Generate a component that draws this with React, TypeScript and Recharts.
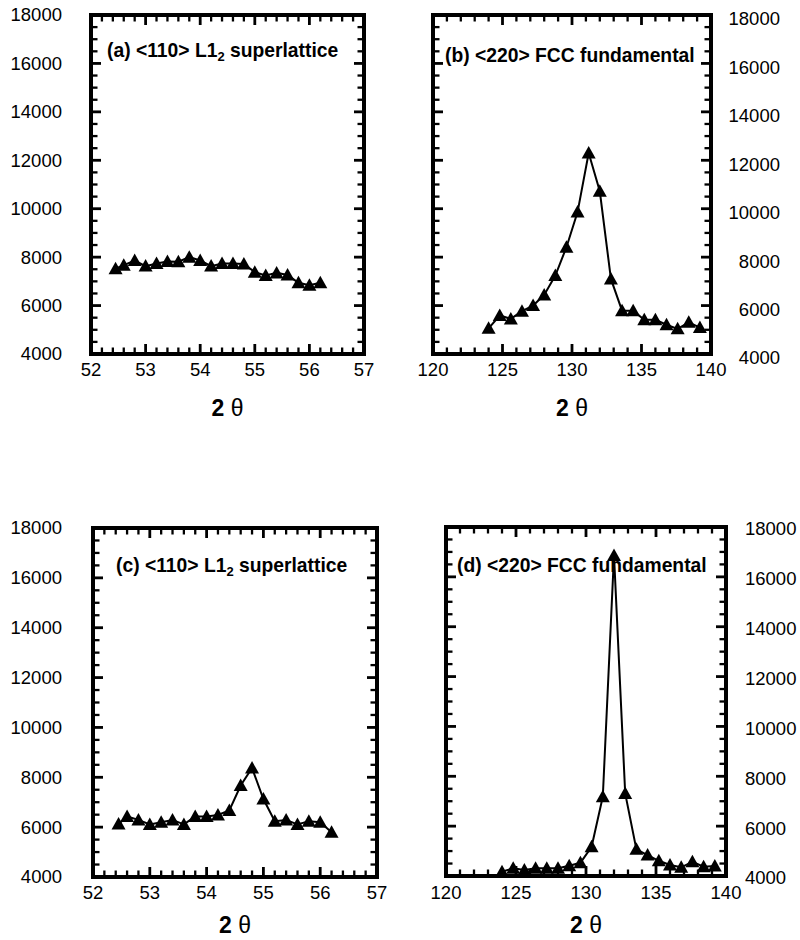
import React from 'react';
import { LineChart, Line, XAxis, YAxis, Label, ReferenceLine, ReferenceArea } from 'recharts';

const FONT = '"Liberation Sans", Arial, Helvetica, sans-serif';

// ---- Data ----
// (a) <110> L1_2 superlattice, upper panel
const superXa = [52.45, 52.6, 52.8, 53.0, 53.2, 53.4, 53.6, 53.8, 54.0, 54.2, 54.4, 54.6, 54.8, 55.0, 55.2, 55.4, 55.6, 55.8, 56.0, 56.2];
const superYa = [7520, 7670, 7860, 7630, 7740, 7820, 7810, 8000, 7860, 7630, 7740, 7740, 7720, 7380, 7240, 7350, 7260, 6940, 6840, 6940];

// (b) <220> FCC fundamental, upper panel
const fundXb = [124.0, 124.8, 125.6, 126.4, 127.2, 128.0, 128.8, 129.6, 130.4, 131.2, 132.0, 132.8, 133.6, 134.4, 135.2, 136.0, 136.8, 137.6, 138.4, 139.2];
const fundYb = [5060, 5590, 5450, 5770, 6000, 6440, 7240, 8410, 9860, 12300, 10720, 7100, 5790, 5790, 5410, 5410, 5210, 5040, 5310, 5090];

// (c) <110> L1_2 superlattice, lower panel
const superXc = [52.45, 52.6, 52.8, 53.0, 53.2, 53.4, 53.6, 53.8, 54.0, 54.2, 54.4, 54.6, 54.8, 55.0, 55.2, 55.4, 55.6, 55.8, 56.0, 56.2];
const superYc = [6130, 6430, 6290, 6110, 6200, 6290, 6110, 6430, 6430, 6490, 6670, 7670, 8370, 7130, 6240, 6290, 6110, 6240, 6200, 5800];

// (d) <220> FCC fundamental, lower panel
const fundXd = [124.0, 124.8, 125.6, 126.4, 127.2, 128.0, 128.8, 129.6, 130.4, 131.2, 132.0, 132.8, 133.6, 134.4, 135.2, 136.0, 136.8, 137.6, 138.4, 139.2];
const fundYd = [4170, 4310, 4240, 4310, 4310, 4310, 4410, 4530, 5170, 7180, 16860, 7310, 5070, 4840, 4610, 4440, 4350, 4570, 4370, 4400];

// ---- Tick labels ----
const superXTicks = [52, 53, 54, 55, 56, 57];
const fundXTicks = [120, 125, 130, 135, 140];
const intensityTicks = [4000, 6000, 8000, 10000, 12000, 14000, 16000, 18000];

const titleA: [string, string, string] = ['(a) <110> L1', '2', ' superlattice'];
const titleB: [string, string, string] = ['(b) <220> FCC fundamental', '', ''];
const titleC: [string, string, string] = ['(c) <110> L1', '2', ' superlattice'];
const titleD: [string, string, string] = ['(d) <220> FCC fundamental', '', ''];

function stepTicks(lo: number, hi: number, step: number, skip: number[]): number[] {
  const out: number[] = [];
  const n = Math.round((hi - lo) / step);
  for (let i = 0; i <= n; i++) {
    const v = +(lo + i * step).toFixed(6);
    if (!skip.some((m) => Math.abs(m - v) < 1e-6)) out.push(v);
  }
  return out;
}

type Box = { l: number; t: number; r: number; b: number };

interface PanelProps {
  xs: number[];
  ys: number[];
  xMajor: number[];
  xStep: number;
  yStep: number;
  box: Box;
  frame: Box;
  ySide: 'left' | 'right';
  yLabelX: number;
  yAnchor: 'start' | 'end';
  yLabelDy: number;
  xLabelY: number;
  axisTitleY: number;
  title: [string, string, string];
  titleX: number;
  titleY: number;
}

const Triangle = (props: any) => {
  const { cx, cy, index } = props;
  if (cx == null || cy == null) return <g key={`n-${index}`} />;
  return (
    <polygon
      key={`t-${index}`}
      points={`${cx},${cy - 7} ${cx + 7},${cy + 5.5} ${cx - 7},${cy + 5.5}`}
      fill="#000"
    />
  );
};

const EmptyTick = () => <g />;
const MAJ_PX = 10;
const MIN_PX = 6.5;
const MAJ_W = 2.8;
const MIN_W = 2.3;

function Panel(p: PanelProps) {
  const W = p.frame.r - p.frame.l;
  const H = p.frame.b - p.frame.t;
  const bx0 = p.box.l - p.frame.l;
  const bx1 = p.box.r - p.frame.l;
  const by0 = p.box.t - p.frame.t;
  const by1 = p.box.b - p.frame.t;
  const margin = { left: bx0 - 1, top: by0 - 1, right: W - bx1 - 1, bottom: H - by1 - 1 };
  const data = p.xs.map((x, i) => ({ x, y: p.ys[i] }));
  const xDomain: [number, number] = [p.xMajor[0], p.xMajor[p.xMajor.length - 1]];
  const yDomain: [number, number] = [intensityTicks[0], intensityTicks[intensityTicks.length - 1]];
  const xMinor = stepTicks(xDomain[0], xDomain[1], p.xStep, p.xMajor);
  const yMinor = stepTicks(yDomain[0], yDomain[1], p.yStep, intensityTicks);
  // tick lengths converted from pixels into data units
  const xPerPx = (xDomain[1] - xDomain[0]) / (bx1 - bx0);
  const yPerPx = (yDomain[1] - yDomain[0]) / (by1 - by0);

  const tickMarks: React.ReactNode[] = [];
  const addX = (v: number, len: number, w: number, key: string) => {
    const dy = len * yPerPx;
    tickMarks.push(
      <ReferenceLine key={`xb${key}`} xAxisId="b" yAxisId="l" ifOverflow="visible"
        segment={[{ x: v, y: yDomain[0] }, { x: v, y: yDomain[0] + dy }]} stroke="#000" strokeWidth={w} />,
      <ReferenceLine key={`xt${key}`} xAxisId="b" yAxisId="l" ifOverflow="visible"
        segment={[{ x: v, y: yDomain[1] }, { x: v, y: yDomain[1] - dy }]} stroke="#000" strokeWidth={w} />
    );
  };
  const addY = (v: number, len: number, w: number, key: string) => {
    const dx = len * xPerPx;
    tickMarks.push(
      <ReferenceLine key={`yl${key}`} xAxisId="b" yAxisId="l" ifOverflow="visible"
        segment={[{ x: xDomain[0], y: v }, { x: xDomain[0] + dx, y: v }]} stroke="#000" strokeWidth={w} />,
      <ReferenceLine key={`yr${key}`} xAxisId="b" yAxisId="l" ifOverflow="visible"
        segment={[{ x: xDomain[1], y: v }, { x: xDomain[1] - dx, y: v }]} stroke="#000" strokeWidth={w} />
    );
  };
  p.xMajor.forEach((v, i) => addX(v, MAJ_PX, MAJ_W, `M${i}`));
  xMinor.forEach((v, i) => addX(v, MIN_PX, MIN_W, `m${i}`));
  intensityTicks.forEach((v, i) => addY(v, MAJ_PX, MAJ_W, `M${i}`));
  yMinor.forEach((v, i) => addY(v, MIN_PX, MIN_W, `m${i}`));

  const bottomLabel = (props: any) => {
    const { x, payload } = props;
    return (
      <text x={x} y={p.xLabelY - p.frame.t} dy="0.35em" textAnchor="middle" fontSize={18.5} fontFamily={FONT} fill="#000">
        {payload.value}
      </text>
    );
  };
  const sideLabel = (props: any) => {
    const { y, payload } = props;
    return (
      <text x={p.yLabelX - p.frame.l} y={y + p.yLabelDy} dy="0.35em" textAnchor={p.yAnchor} fontSize={18.5} fontFamily={FONT} fill="#000">
        {payload.value}
      </text>
    );
  };

  const axisTitle = () => (
    <text x={(bx0 + bx1) / 2} y={p.axisTitleY - p.frame.t} dy="0.35em" textAnchor="middle" fontSize={23} fontFamily={FONT} fill="#000">
      <tspan fontWeight="bold">2</tspan>
      <tspan> θ</tspan>
    </text>
  );
  const titleLabel = () => (
    <text x={p.titleX - p.frame.l} y={p.titleY - p.frame.t} dy="0.35em" fontSize={19.3} fontWeight="bold" fontFamily={FONT} fill="#000">
      <tspan>{p.title[0]}</tspan>
      {p.title[1] && (
        <tspan fontSize={13} dy={4}>
          {p.title[1]}
        </tspan>
      )}
      {p.title[2] && <tspan dy={p.title[1] ? -4 : 0}>{p.title[2]}</tspan>}
    </text>
  );

  const common = { type: 'number' as const, interval: 0 as const, tickMargin: 0, tickSize: 0, allowDataOverflow: true, tickLine: false, axisLine: false };

  return (
    <div style={{ position: 'absolute', left: p.frame.l, top: p.frame.t }}>
      <LineChart width={W} height={H} data={data} margin={margin}>
        <XAxis {...common} xAxisId="b" dataKey="x" domain={xDomain} ticks={p.xMajor} height={1} tick={bottomLabel}>
          <Label content={axisTitle} />
        </XAxis>
        <XAxis {...common} xAxisId="t" orientation="top" dataKey="x" domain={xDomain} ticks={p.xMajor} height={1} tick={EmptyTick}>
          <Label content={titleLabel} />
        </XAxis>
        <YAxis {...common} yAxisId="l" domain={yDomain} ticks={intensityTicks} width={1}
          tick={p.ySide === 'left' ? sideLabel : EmptyTick} />
        <YAxis {...common} yAxisId="r" orientation="right" domain={yDomain} ticks={intensityTicks} width={1}
          tick={p.ySide === 'right' ? sideLabel : EmptyTick} />
        <ReferenceArea xAxisId="b" yAxisId="l" x1={xDomain[0]} x2={xDomain[1]} y1={yDomain[0]} y2={yDomain[1]}
          ifOverflow="visible" fill="none" fillOpacity={0} stroke="#000" strokeWidth={4} />
        {tickMarks}
        <Line
          xAxisId="b"
          yAxisId="l"
          type="linear"
          dataKey="y"
          stroke="#000"
          strokeWidth={2}
          dot={Triangle}
          activeDot={false}
          isAnimationActive={false}
        />
      </LineChart>
    </div>
  );
}

export default function App() {
  return (
    <div style={{ position: 'absolute', left: 0, top: 0, width: 800, height: 940, background: '#fff' }}>
      <Panel
        xs={superXa}
        ys={superYa}
        xMajor={superXTicks}
        xStep={0.2}
        yStep={500}
        box={{ l: 91, t: 15, r: 364, b: 354 }}
        frame={{ l: 0, t: 0, r: 384, b: 440 }}
        ySide="left"
        yLabelX={62}
        yAnchor="end"
        yLabelDy={0}
        xLabelY={370}
        axisTitleY={408}
        title={titleA}
        titleX={107}
        titleY={50}
      />
      <Panel
        xs={fundXb}
        ys={fundYb}
        xMajor={fundXTicks}
        xStep={1}
        yStep={500}
        box={{ l: 433, t: 15, r: 711, b: 354 }}
        frame={{ l: 390, t: 0, r: 800, b: 440 }}
        ySide="right"
        yLabelX={780}
        yAnchor="end"
        yLabelDy={4}
        xLabelY={370}
        axisTitleY={408}
        title={titleB}
        titleX={445}
        titleY={55}
      />
      <Panel
        xs={superXc}
        ys={superYc}
        xMajor={superXTicks}
        xStep={0.2}
        yStep={500}
        box={{ l: 93, t: 528, r: 377, b: 877 }}
        frame={{ l: 0, t: 470, r: 397, b: 940 }}
        ySide="left"
        yLabelX={62}
        yAnchor="end"
        yLabelDy={0}
        xLabelY={893}
        axisTitleY={925}
        title={titleC}
        titleX={116}
        titleY={565}
      />
      <Panel
        xs={fundXd}
        ys={fundYd}
        xMajor={fundXTicks}
        xStep={1}
        yStep={500}
        box={{ l: 446, t: 527, r: 726, b: 876 }}
        frame={{ l: 400, t: 470, r: 800, b: 940 }}
        ySide="right"
        yLabelX={745}
        yAnchor="start"
        yLabelDy={2}
        xLabelY={893}
        axisTitleY={925}
        title={titleD}
        titleX={457}
        titleY={565}
      />
    </div>
  );
}
